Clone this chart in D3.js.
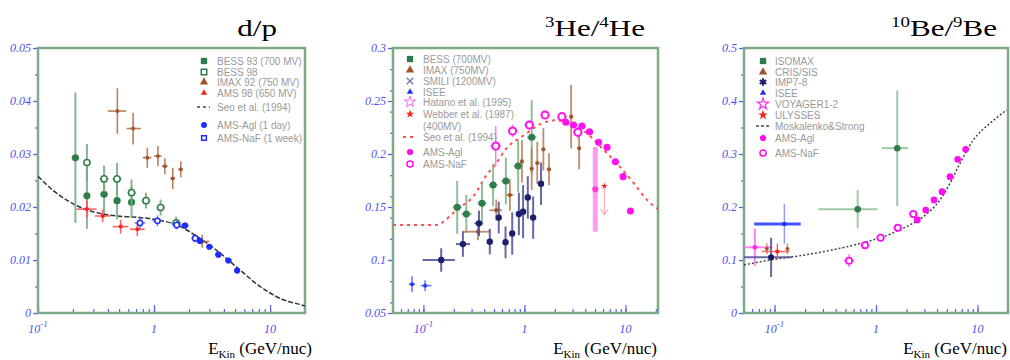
<!DOCTYPE html>
<html>
<head>
<meta charset="utf-8">
<script src="https://cdn.jsdelivr.net/npm/d3@7"></script>
<style>
body { margin: 0; background: #fff; }
svg { display: block; }
.leg { font-family: "Liberation Sans", Arial, sans-serif; font-size: 10px; fill: #9a9a9a; }
.ylab { font-family: "Liberation Serif", "Times New Roman", serif; font-style: italic; font-size: 12px; fill: #5050ee; }
.xlab { font-family: "Liberation Serif", "Times New Roman", serif; font-style: italic; font-size: 12px; fill: #5050ee; }
.ttl { font-family: "Liberation Serif", "Times New Roman", serif; fill: #000; }
</style>
</head>
<body>
<svg width="1010" height="360"></svg>
<script>
// rows: [E (GeV/nuc), ratio, error, E low, E high]

// ---- d/p
const dpYTicks = [0, 0.01, 0.02, 0.03, 0.04, 0.05]
const dpBess93 = [
    [0.21, 0.0293, 0.0123, 0.195, 0.226],
    [0.264, 0.0221, 0.0062, 0.248, 0.28],
    [0.371, 0.0224, 0.0035, 0.345, 0.40],
    [0.48, 0.0212, 0.0035, 0.45, 0.515],
    [0.64, 0.0209, 0.003, 0.60, 0.68]
]
const dpBess98 = [
    [0.264, 0.0284, 0.0035, 0.245, 0.285],
    [0.371, 0.0253, 0.0025, 0.34, 0.405],
    [0.48, 0.0253, 0.003, 0.44, 0.525],
    [0.64, 0.0227, 0.0025, 0.59, 0.70],
    [0.853, 0.0212, 0.0015, 0.78, 0.93],
    [1.14, 0.0199, 0.0015, 1.05, 1.24],
    [1.55, 0.0170, 0.0012, 1.40, 1.72]
]
const dpImax92 = [
    [0.483, 0.0381, 0.0043, 0.40, 0.575],
    [0.66, 0.0348, 0.003, 0.58, 0.77],
    [0.875, 0.0293, 0.0019, 0.80, 0.95],
    [1.08, 0.0296, 0.0019, 1.0, 1.16],
    [1.24, 0.0277, 0.0015, 1.17, 1.31],
    [1.45, 0.0254, 0.002, 1.38, 1.52],
    [1.70, 0.0271, 0.0015, 1.62, 1.78],
    [2.6, 0.0135, 0.0012, 2.2, 3.0]
]
const dpAms98 = [
    [0.264, 0.0196, 0.0016, 0.215, 0.32],
    [0.361, 0.0183, 0.0012, 0.31, 0.42],
    [0.516, 0.0163, 0.0013, 0.44, 0.60],
    [0.718, 0.0158, 0.0013, 0.62, 0.83]
]
const dpAmsAgl = [
    [1.85, 0.0165, 0.0006, 1.70, 2.0],
    [2.49, 0.0136, 0.0005, 2.3, 2.7],
    [3.0, 0.0125, 0.0005, 2.8, 3.2],
    [3.58, 0.0110, 0.0005, 3.35, 3.85],
    [4.37, 0.0099, 0.0005, 4.1, 4.7],
    [5.2, 0.0080, 0.0005, 4.9, 5.5]
]
const dpAmsNaf = [
    [0.757, 0.0170, 0.0012, 0.68, 0.84],
    [1.07, 0.0174, 0.001, 0.97, 1.18],
    [1.57, 0.0166, 0.0008, 1.43, 1.72],
    [2.26, 0.0141, 0.0006, 2.1, 2.45]
]
const dpSeo = [
    [0.1, 0.0258], [0.1355, 0.0231], [0.177, 0.0213], [0.246, 0.0197], [0.342, 0.0188],
    [0.477, 0.0183], [0.663, 0.0181], [0.986, 0.0177], [1.57, 0.0166], [2.49, 0.0141],
    [3.71, 0.0113], [5.51, 0.0081], [8.2, 0.0050], [13, 0.0025], [18.8, 0.0015], [20, 0.0013]
]
const dpLegend = ['BESS 93 (700 MV)', 'BESS 98', 'IMAX 92 (750 MV)', 'AMS 98 (650 MV)',
    'Seo et al. (1994)', 'AMS-Agl (1 day)', 'AMS-NaF (1 week)']

// ---- 3He/4He
const heYTicks = [0.05, 0.1, 0.15, 0.2, 0.25, 0.3]
const heBess = [
    [0.216, 0.1497, 0.025, 0.195, 0.24],
    [0.266, 0.1434, 0.018, 0.24, 0.30],
    [0.380, 0.1535, 0.02, 0.345, 0.42],
    [0.49, 0.1708, 0.02, 0.445, 0.54],
    [0.655, 0.1745, 0.022, 0.59, 0.72],
    [0.867, 0.1887, 0.025, 0.78, 0.96],
    [1.18, 0.2158, 0.035, 1.06, 1.31]
]
const heImax = [
    [0.347, 0.1267, 0.008, 0.245, 0.454],
    [0.526, 0.147, 0.01, 0.45, 0.60],
    [0.718, 0.1613, 0.015, 0.66, 0.78],
    [0.945, 0.193, 0.02],
    [1.18, 0.186, 0.02],
    [1.34, 0.1915, 0.02],
    [1.54, 0.2044, 0.02],
    [1.75, 0.1856, 0.015],
    [2.90, 0.2352, 0.03],
    [3.48, 0.2054, 0.02]
]
const heSmili = [
    [0.150, 0.100, 0.011, 0.098, 0.205],
    [0.246, 0.115, 0.012, 0.21, 0.29],
    [0.355, 0.1346, 0.012, 0.32, 0.39],
    [0.454, 0.1173, 0.012],
    [0.557, 0.140, 0.015],
    [0.650, 0.1167, 0.015],
    [0.757, 0.125, 0.02],
    [0.881, 0.1434, 0.02],
    [0.97, 0.1456, 0.025],
    [1.08, 0.159, 0.02],
    [1.22, 0.140, 0.02],
    [1.46, 0.172, 0.02]
]
const heIsee = [
    [0.0772, 0.0771, 0.0075, 0.072, 0.083],
    [0.104, 0.0758, 0.005, 0.094, 0.12]
]
const heHatano = [[5.03, 0.1667, 0.04]]
const heWebber = [[6.18, 0.1698, 0.1425]]
const heAmsNaf = [
    [0.520, 0.2075, 0.019, 0.46, 0.58],
    [0.764, 0.2217, 0.006, 0.69, 0.85],
    [1.12, 0.2274, 0.005, 1.0, 1.25],
    [1.60, 0.2368, 0.004, 1.45, 1.78],
    [2.35, 0.2352, 0.004, 2.12, 2.6],
    [3.38, 0.2205, 0.006, 3.05, 3.75]
]
const heAmsAgl = [
    [2.57, 0.2299], [3.06, 0.2274], [3.71, 0.2264], [4.41, 0.221], [5.42, 0.211],
    [6.57, 0.2063], [7.95, 0.1927], [9.48, 0.1786], [11.2, 0.1462]
]
const heSeo = [
    [0.05, 0.133], [0.138, 0.133], [0.162, 0.137], [0.211, 0.147], [0.32, 0.1613],
    [0.42, 0.180], [0.51, 0.1896], [0.665, 0.2054], [1.0, 0.218], [1.5, 0.229],
    [2.0, 0.2318], [2.63, 0.2295], [4.16, 0.2195], [5.64, 0.207], [8.26, 0.191],
    [12.1, 0.1724], [16.4, 0.1566], [21, 0.148]
]
const heLegend = ['BESS (700MV)', 'IMAX (750MV)', 'SMILI (1200MV)', 'ISEE', 'Hatano et al. (1995)',
    'Webber et al. (1987)', '(400MV)', 'Seo et al. (1994)', 'AMS-Agl', 'AMS-NaF']

// ---- 10Be/9Be
const beYTicks = [0, 0.1, 0.2, 0.3, 0.4, 0.5]
const beIsomax = [
    [0.66, 0.1957, 0.036, 0.27, 1.03],
    [1.62, 0.311, 0.109, 1.14, 2.08]
]
const beCris = [
    [0.084, 0.121, 0.01],
    [0.134, 0.121, 0.01]
]
const beImp = [[0.0924, 0.105, 0.037, 0.05, 0.148]]
const beIsee = [[0.125, 0.168, 0.038, 0.063, 0.181]]
const beVoyager = [[0.064, 0.124, 0.035, 0.05, 0.095]]
const beUlysses = [[0.1066, 0.116, 0.015, 0.075, 0.14]]
const beAmsNaf = [
    [0.542, 0.0987, 0.012, 0.48, 0.61],
    [0.779, 0.128, 0.005, 0.70, 0.87],
    [1.11, 0.142, 0.005, 1.0, 1.24],
    [1.64, 0.161, 0.006, 1.48, 1.82],
    [2.33, 0.1868, 0.006, 2.1, 2.6]
]
const beAmsAgl = [
    [2.55, 0.1755], [3.09, 0.1943], [3.73, 0.2132], [4.47, 0.229],
    [5.36, 0.2572], [6.38, 0.290], [7.65, 0.3089]
]
const beMosk = [
    [0.05, 0.0906], [0.0903, 0.100], [0.192, 0.109], [0.41, 0.1208], [0.75, 0.1327],
    [1.18, 0.144], [1.86, 0.160], [2.92, 0.1818], [4.27, 0.2132], [5.36, 0.2447],
    [6.73, 0.2824], [9.1, 0.3264], [13.3, 0.358], [19.4, 0.383]
]
const beLegend = ['ISOMAX', 'CRIS/SIS', 'IMP7-8', 'ISEE', 'VOYAGER1-2', 'ULYSSES',
    'Moskalenko&Strong', 'AMS-Agl', 'AMS-NaF']

const svg = d3.select('svg')
const plotTop = 48, plotBottom = 313
const frameColor = '#7eab86'
const axisColor = '#5a5af0'

function makePanel(id, left, right, xDomain, yDomain, yTicks) {
    const x = d3.scaleLog().domain(xDomain).range([left, right])
    const y = d3.scaleLinear().domain(yDomain).range([plotBottom, plotTop])
    const g = svg.append('g')

    g.append('clipPath').attr('id', 'clip' + id)
        .append('rect').attr('x', left).attr('y', plotTop)
        .attr('width', right - left).attr('height', plotBottom - plotTop)

    // y axis, ticks outside the frame
    const yMinor = g.append('g').attr('transform', `translate(${left},0)`)
        .call(d3.axisLeft(y).tickValues(y.ticks(10)).tickSize(3).tickFormat(''))
    const yMajor = g.append('g').attr('transform', `translate(${left},0)`)
        .call(d3.axisLeft(y).tickValues(yTicks).tickSize(5).tickPadding(2).tickFormat(d => String(d)))
    yMajor.selectAll('text').attr('class', 'ylab').attr('fill', null)

    // x axis, ticks inside pointing up
    const decades = x.ticks().filter(d => Math.abs(Math.log10(d) - Math.round(Math.log10(d))) < 1e-6)
    const xMinor = g.append('g').attr('transform', `translate(0,${plotBottom})`)
        .call(d3.axisBottom(x).tickValues(x.ticks()).tickSize(-4).tickFormat(''))
    const xMajor = g.append('g').attr('transform', `translate(0,${plotBottom})`)
        .call(d3.axisBottom(x).tickValues(decades).tickSize(-8).tickFormat(''))
    for (const a of [yMinor, yMajor, xMinor, xMajor]) {
        a.select('.domain').remove()
        a.selectAll('line').attr('stroke', axisColor).attr('stroke-width', 1.2)
    }

    const xl = g.selectAll('.xlab').data([0.1, 1, 10]).join('text')
        .attr('class', 'xlab')
        .attr('x', d => x(d)).attr('y', 333).attr('text-anchor', 'middle')
    xl.each(function (d) {
        const t = d3.select(this)
        if (d < 1) {
            t.text('10')
            t.append('tspan').attr('dy', -6).attr('font-size', 9).text('-1')
        } else {
            t.text(d)
        }
    })

    g.append('rect').attr('x', left).attr('y', plotTop)
        .attr('width', right - left).attr('height', plotBottom - plotTop)
        .attr('fill', 'none').attr('stroke', frameColor).attr('stroke-width', 2.5)

    const plot = g.append('g').attr('clip-path', `url(#clip${id})`)
    return {x, y, g, plot, left, right}
}

function drawCurve(P, pts, color, dash, width) {
    const line = d3.line().x(d => P.x(d[0])).y(d => P.y(d[1])).curve(d3.curveMonotoneX)
    P.plot.append('path').datum(pts).attr('d', line)
        .attr('fill', 'none').attr('stroke', color)
        .attr('stroke-width', width).attr('stroke-dasharray', dash)
}

function drawSeries(P, rows, s) {
    const g = P.plot.append('g')
    const row = g.selectAll('g').data(rows).join('g')
    row.filter(d => d.length > 2).append('line')
        .attr('x1', d => P.x(d[0])).attr('x2', d => P.x(d[0]))
        .attr('y1', d => P.y(d[1] - d[2])).attr('y2', d => P.y(d[1] + d[2]))
        .attr('stroke', s.bar).attr('stroke-width', s.bw || 1.5).attr('opacity', s.bo || 0.85)
    row.filter(d => d.length > 4).append('line')
        .attr('x1', d => P.x(d[3])).attr('x2', d => P.x(d[4]))
        .attr('y1', d => P.y(d[1])).attr('y2', d => P.y(d[1]))
        .attr('stroke', s.hbar || s.bar).attr('stroke-width', s.hw || s.bw || 1.5).attr('opacity', s.bo || 0.85)
    row.append('path')
        .attr('transform', d => `translate(${P.x(d[0])},${P.y(d[1])})`)
        .attr('d', d3.symbol(s.shape || d3.symbolCircle, s.size))
        .attr('fill', s.fill).attr('stroke', s.stroke || 'none').attr('stroke-width', s.sw || 1.5)
}

function drawLegend(P, labels, mx, tx, ys, marks, fontSizes) {
    const g = P.g.append('g')
    labels.forEach((lab, i) => {
        const m = marks[i]
        const y = ys[i]
        if (m) {
            if (m.line) {
                g.append('line').attr('x1', mx - 7).attr('x2', mx + 6).attr('y1', y).attr('y2', y)
                    .attr('stroke', m.line).attr('stroke-width', m.lw || 1.3).attr('stroke-dasharray', m.dash)
            } else {
                g.append('path').attr('transform', `translate(${mx},${y})`)
                    .attr('d', d3.symbol(m.shape, m.size || 36))
                    .attr('fill', m.fill).attr('stroke', m.stroke || 'none').attr('stroke-width', m.sw || 1.5)
            }
        }
        g.append('text').attr('class', 'leg').attr('x', tx).attr('y', y + 3.5)
            .attr('font-size', fontSizes[i]).text(lab)
    })
}

function title(xRight, parts) {
    const t = svg.append('text').attr('class', 'ttl')
        .attr('transform', `translate(${xRight},36) scale(1.35,1)`)
        .attr('text-anchor', 'end').attr('font-size', 23)
    let shift = 0
    parts.forEach(([s, sup]) => {
        const dy = sup ? -9 - shift : -shift
        shift = sup ? -9 : 0
        t.append('tspan').attr('dy', dy).attr('font-size', sup ? 14 : 23).text(s)
    })
}

function xTitle(xRight) {
    const t = svg.append('text').attr('class', 'ttl')
        .attr('x', xRight).attr('y', 354).attr('text-anchor', 'end').attr('font-size', 17)
    t.append('tspan').text('E')
    t.append('tspan').attr('dy', 4).attr('font-size', 11).text('Kin')
    t.append('tspan').attr('dy', -4).text(' (GeV/nuc)')
}

const green = '#2f7d4a', greenBar = '#72aa7e'
const brown = '#a3532c', red = '#ff2020', blue = '#1e2cff'
const navy = '#1c1f6b', magenta = '#ff10ee'

// ---------------- panel 1: d/p
const P1 = makePanel(1, 38, 305, [0.1, 20], [0, 0.05], dpYTicks)
drawCurve(P1, dpSeo, '#333', '5,2', 1.5)
drawSeries(P1, dpBess93, {fill: green, size: 40, bar: greenBar, bw: 2})
drawSeries(P1, dpBess98, {fill: '#fff', stroke: green, size: 30, bar: greenBar, bw: 2})
drawSeries(P1, dpImax92, {fill: brown, size: 12, bar: '#b06a42', bw: 1.6})
drawSeries(P1, dpAms98, {fill: red, size: 14, bar: '#ff4a4a', bw: 1.6})
drawSeries(P1, dpAmsNaf, {fill: '#fff', stroke: blue, size: 22, bar: '#5560ff', bw: 1.5})
drawSeries(P1, dpAmsAgl, {fill: blue, size: 30, bar: '#5560ff', bw: 1.5})
drawLegend(P1, dpLegend, 204, 217, [61, 72, 82, 93, 107, 125, 138], [
    {shape: d3.symbolSquare, fill: green, size: 40},
    {shape: d3.symbolSquare, fill: '#fff', stroke: green, size: 30},
    {shape: d3.symbolTriangle, fill: brown, size: 30},
    {shape: d3.symbolTriangle2, fill: red, size: 30},
    {line: '#444', dash: '3,3'},
    {shape: d3.symbolCircle, fill: blue, size: 28},
    {shape: d3.symbolSquare, fill: '#fff', stroke: blue, size: 22}
], [10, 10, 10, 10, 8, 10, 10])
title(277, [['d/p', false]])
xTitle(312)

// ---------------- panel 2: 3He/4He
const P2 = makePanel(2, 393, 658, [0.05, 21], [0.05, 0.3], heYTicks)
drawCurve(P2, heSeo, '#ff5050', '3,4', 2)
drawSeries(P2, heHatano, {fill: '#ff40e0', size: 30, bar: '#ff9cf0', bw: 5, bo: 1})
drawSeries(P2, heBess, {fill: green, size: 40, bar: '#7fb38a', bw: 2})
drawSeries(P2, heImax, {fill: brown, size: 14, bar: '#b87a55', bw: 1.8})
drawSeries(P2, heSmili, {fill: navy, size: 32, bar: '#4b4f96', bw: 2})
drawSeries(P2, heIsee, {fill: '#2a3cff', size: 14, bar: '#4b5bff', bw: 1.5})
drawSeries(P2, heAmsNaf, {fill: '#fff', stroke: magenta, sw: 2, size: 40, bar: '#ff66ee', bw: 1.5})
drawSeries(P2, heAmsAgl, {fill: magenta, size: 40})
// Webber upper limit: red point with a hollow arrow down
const wb = P2.plot.append('g')
wb.selectAll('line').data(heWebber).join('line')
    .attr('x1', d => P2.x(d[0])).attr('x2', d => P2.x(d[0]))
    .attr('y1', d => P2.y(d[1])).attr('y2', d => P2.y(d[2]))
    .attr('stroke', '#ff9ab0').attr('stroke-width', 1)
wb.selectAll('path.arr').data(heWebber).join('path').attr('class', 'arr')
    .attr('d', d => {
        const px = P2.x(d[0]), py = P2.y(d[2])
        return `M${px - 4},${py - 6} L${px},${py} L${px + 4},${py - 6}`
    })
    .attr('fill', 'none').attr('stroke', '#ff9ab0').attr('stroke-width', 1)
wb.selectAll('path.pt').data(heWebber).join('path').attr('class', 'pt')
    .attr('transform', d => `translate(${P2.x(d[0])},${P2.y(d[1])})`)
    .attr('d', d3.symbol(d3.symbolStar, 14)).attr('fill', red)
drawLegend(P2, heLegend, 410, 423, [59, 70, 81, 92, 102, 114, 126, 137, 152, 164], [
    {shape: d3.symbolSquare, fill: green, size: 40},
    {shape: d3.symbolTriangle, fill: brown, size: 30},
    {shape: d3.symbolTimes, fill: 'none', stroke: '#6a6fb0', size: 30, sw: 1.2},
    {shape: d3.symbolTriangle2, fill: '#2030ff', size: 30},
    {shape: d3.symbolStar, fill: '#fff', stroke: '#ff60f0', size: 40, sw: 1},
    {shape: d3.symbolStar, fill: red, size: 22},
    null,
    {line: '#ff5050', dash: '3,4', lw: 2},
    {shape: d3.symbolCircle, fill: magenta, size: 30},
    {shape: d3.symbolCircle, fill: '#fff', stroke: magenta, size: 30}
], [10, 10, 10, 10, 10, 10, 10, 9, 10, 10])
title(645, [['3', true], ['He/', false], ['4', true], ['He', false]])
xTitle(657)

// ---------------- panel 3: 10Be/9Be
const P3 = makePanel(3, 744, 1008, [0.05, 20], [0, 0.5], beYTicks)
drawCurve(P3, beMosk, '#444', '2,2', 1.5)
drawSeries(P3, beIsomax, {fill: green, size: 34, bar: '#8fbf98', bw: 2})
drawSeries(P3, beVoyager, {fill: '#ff30e8', size: 18, bar: '#ff6ff0', bw: 2})
drawSeries(P3, beImp, {fill: '#14185e', size: 28, bar: '#4a4f96', bw: 2})
drawSeries(P3, beIsee, {fill: '#2233ff', size: 16, bar: '#8088ff', hbar: '#2233ff', hw: 3})
drawSeries(P3, beCris, {fill: brown, size: 12, bar: '#c08060', bw: 1.5})
drawSeries(P3, beUlysses, {fill: red, size: 14, bar: '#ff5050', bw: 1.5})
drawSeries(P3, beAmsNaf, {fill: '#fff', stroke: magenta, sw: 1.8, size: 30, bar: '#ff66ee', bw: 1.5})
drawSeries(P3, beAmsAgl, {fill: magenta, size: 36})
drawLegend(P3, beLegend, 763, 775, [61, 72, 82, 93, 104, 115, 126, 138, 153], [
    {shape: d3.symbolSquare, fill: green, size: 40},
    {shape: d3.symbolTriangle, fill: brown, size: 30},
    {shape: d3.symbolAsterisk, fill: 'none', stroke: navy, size: 40, sw: 2},
    {shape: d3.symbolTriangle2, fill: '#2030ff', size: 30},
    {shape: d3.symbolStar, fill: '#fff', stroke: '#ff30e8', size: 40, sw: 1.2},
    {shape: d3.symbolStar, fill: red, size: 30},
    {line: '#444', dash: '3,2'},
    {shape: d3.symbolCircle, fill: magenta, size: 30},
    {shape: d3.symbolCircle, fill: '#fff', stroke: magenta, size: 30}
], [9.5, 9.5, 9.5, 9.5, 9.5, 9.5, 8, 9.5, 9.5])
title(997, [['10', true], ['Be/', false], ['9', true], ['Be', false]])
xTitle(1007)
</script>
</body>
</html>
